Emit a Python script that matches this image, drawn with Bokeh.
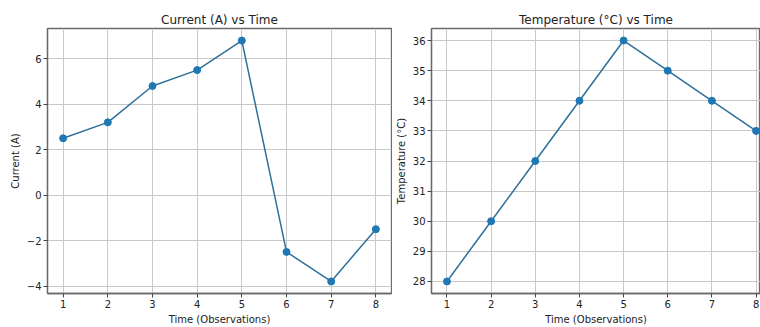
from bokeh.plotting import figure
from bokeh.layouts import row
from bokeh.models import Range1d, FixedTicker
from bokeh.embed import file_html
from bokeh.resources import INLINE

time_obs = [1, 2, 3, 4, 5, 6, 7, 8]
current = [2.5, 3.2, 4.8, 5.5, 6.8, -2.5, -3.8, -1.5]
temperature = [28, 30, 32, 34, 36, 35, 34, 33]
current_ticks = [-4, -2, 0, 2, 4, 6]
temp_ticks = [28, 29, 30, 31, 32, 33, 34, 35, 36]

FONT = "DejaVu Sans"
BLUE = "#1f77b4"
LINE_BLUE = "#2e7099"
FRAME = "#6a6a6a"


def make_fig(title, ylabel, xs, ys, yticks, x_range, y_range, width, mbl, mbr):
    p = figure(width=width, height=327, output_backend="svg", toolbar_location=None,
               x_range=Range1d(*x_range), y_range=Range1d(*y_range),
               min_border_left=mbl, min_border_right=mbr, min_border_top=28, min_border_bottom=32)
    p.title.text = title
    p.title.align = "center"
    p.title.text_font = FONT
    p.title.text_font_size = "12px"
    p.title.text_font_style = "normal"
    p.title.text_color = "#222222"
    p.title.standoff = 4
    p.background_fill_color = "white"
    p.border_fill_color = "white"
    p.outline_line_color = FRAME
    p.outline_line_width = 1.3
    for ax in (p.xaxis, p.yaxis):
        ax.axis_line_color = FRAME
        ax.axis_line_width = 1.3
        ax.major_tick_line_color = "#444444"
        ax.major_tick_out = 4
        ax.major_tick_in = 0
        ax.minor_tick_line_color = None
        ax.major_label_text_font = FONT
        ax.major_label_text_font_size = "10px"
        ax.major_label_text_color = "#222222"
        ax.major_label_standoff = 2
        ax.axis_label_text_font = FONT
        ax.axis_label_text_font_size = "10px"
        ax.axis_label_text_font_style = "normal"
        ax.axis_label_text_color = "#222222"
        ax.axis_label_standoff = 3
    p.xaxis.ticker = FixedTicker(ticks=xs)
    p.yaxis.ticker = FixedTicker(ticks=yticks)
    p.xaxis.axis_label = "Time (Observations)"
    p.yaxis.axis_label = ylabel
    p.grid.grid_line_color = "#c8c8c8"
    p.grid.grid_line_width = 1
    p.line(xs, ys, line_color=LINE_BLUE, line_width=1.5)
    p.scatter(xs, ys, size=7, fill_color=BLUE, line_color=BLUE)
    return p


p1 = make_fig("Current (A) vs Time", "Current (A)", time_obs, current, current_ticks,
              (0.65, 8.35), (-4.33, 7.33), 392, 47, 1)
p2 = make_fig("Temperature (°C) vs Time", "Temperature (°C)", time_obs, temperature, temp_ticks,
              (0.65, 8.1), (27.6, 36.4), 368, 37, 0)

layout = row(p1, p2)
open("out.html", "w").write(file_html(layout, INLINE))
